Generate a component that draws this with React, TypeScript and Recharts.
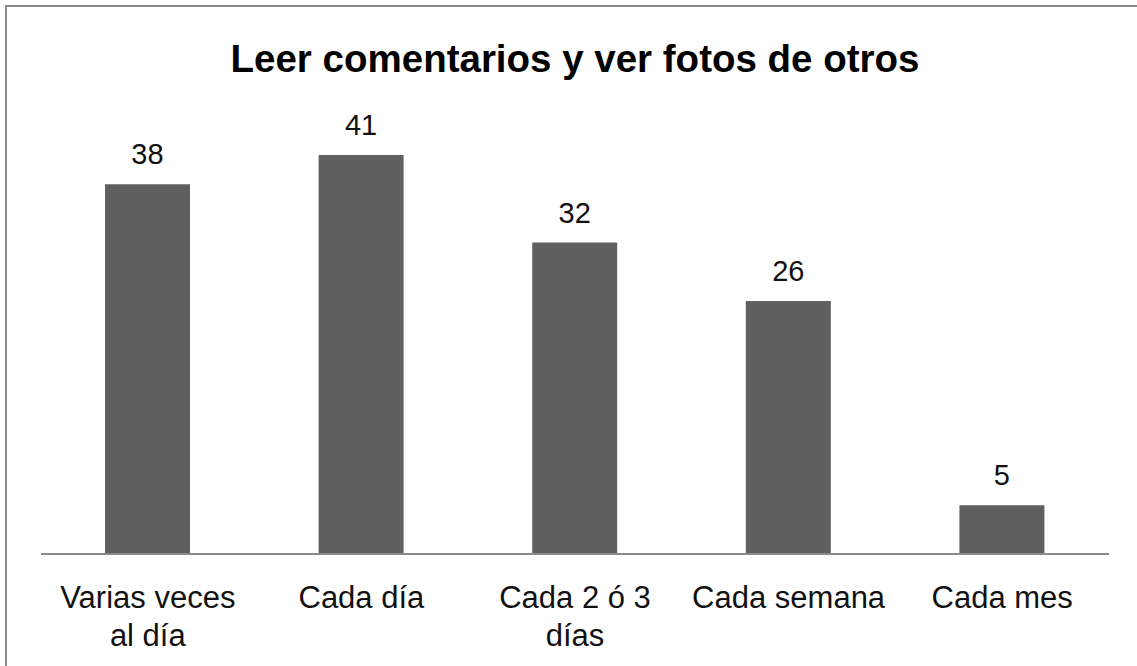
import React from 'react';
import { Bar, BarChart, LabelList, XAxis, YAxis } from 'recharts';

const categories = ['Varias veces al día', 'Cada día', 'Cada 2 ó 3 días', 'Cada semana', 'Cada mes'];
const tickLines = [['Varias veces', 'al día'], ['Cada día'], ['Cada 2 ó 3', 'días'], ['Cada semana'], ['Cada mes']];
const values = [38, 41, 32, 26, 5];

const data = categories.map((name, i) => ({ name, value: values[i] }));

const FONT = '"Liberation Sans", Arial, sans-serif';

const WrappedTick = (props: any) => {
  const { x, y, index } = props;
  const lines = tickLines[index] || [];
  return (
    <g transform={`translate(${x},${y})`}>
      {lines.map((line, i) => (
        <text key={i} x={0} y={46 + i * 38} textAnchor="middle" fill="#111" fontSize={31} fontFamily={FONT}>
          {line}
        </text>
      ))}
    </g>
  );
};

const App: React.FC = () => {
  return (
    <div style={{ position: 'absolute', left: 0, top: 0, width: 1137, height: 666, background: 'white', overflow: 'hidden' }}>
      <div style={{ position: 'absolute', left: 5, top: 5, width: 1150, height: 680, border: '2px solid #8a8a8a' }} />
      <div style={{ position: 'absolute', left: 0, top: 40, width: 1150, textAlign: 'center', fontFamily: FONT, fontWeight: 700, fontSize: 38.5, lineHeight: 1, color: '#000' }}>
        Leer comentarios y ver fotos de otros
      </div>
      <div style={{ position: 'absolute', left: 0, top: 0 }}>
        <BarChart width={1137} height={666} data={data} margin={{ top: 116, right: 28, bottom: 0, left: 41 }}>
          <XAxis
            dataKey="name"
            height={112}
            tickLine={false}
            axisLine={{ stroke: '#8a8a8a', strokeWidth: 2 }}
            tick={<WrappedTick />}
            interval={0}
          />
          <YAxis hide domain={[0, 45]} />
          <Bar dataKey="value" fill="#5f5f5f" isAnimationActive={false} barSize={85}>
            <LabelList dataKey="value" position="top" offset={20} fill="#111" fontSize={29} fontFamily={FONT} />
          </Bar>
        </BarChart>
      </div>
    </div>
  );
};

export default App;
